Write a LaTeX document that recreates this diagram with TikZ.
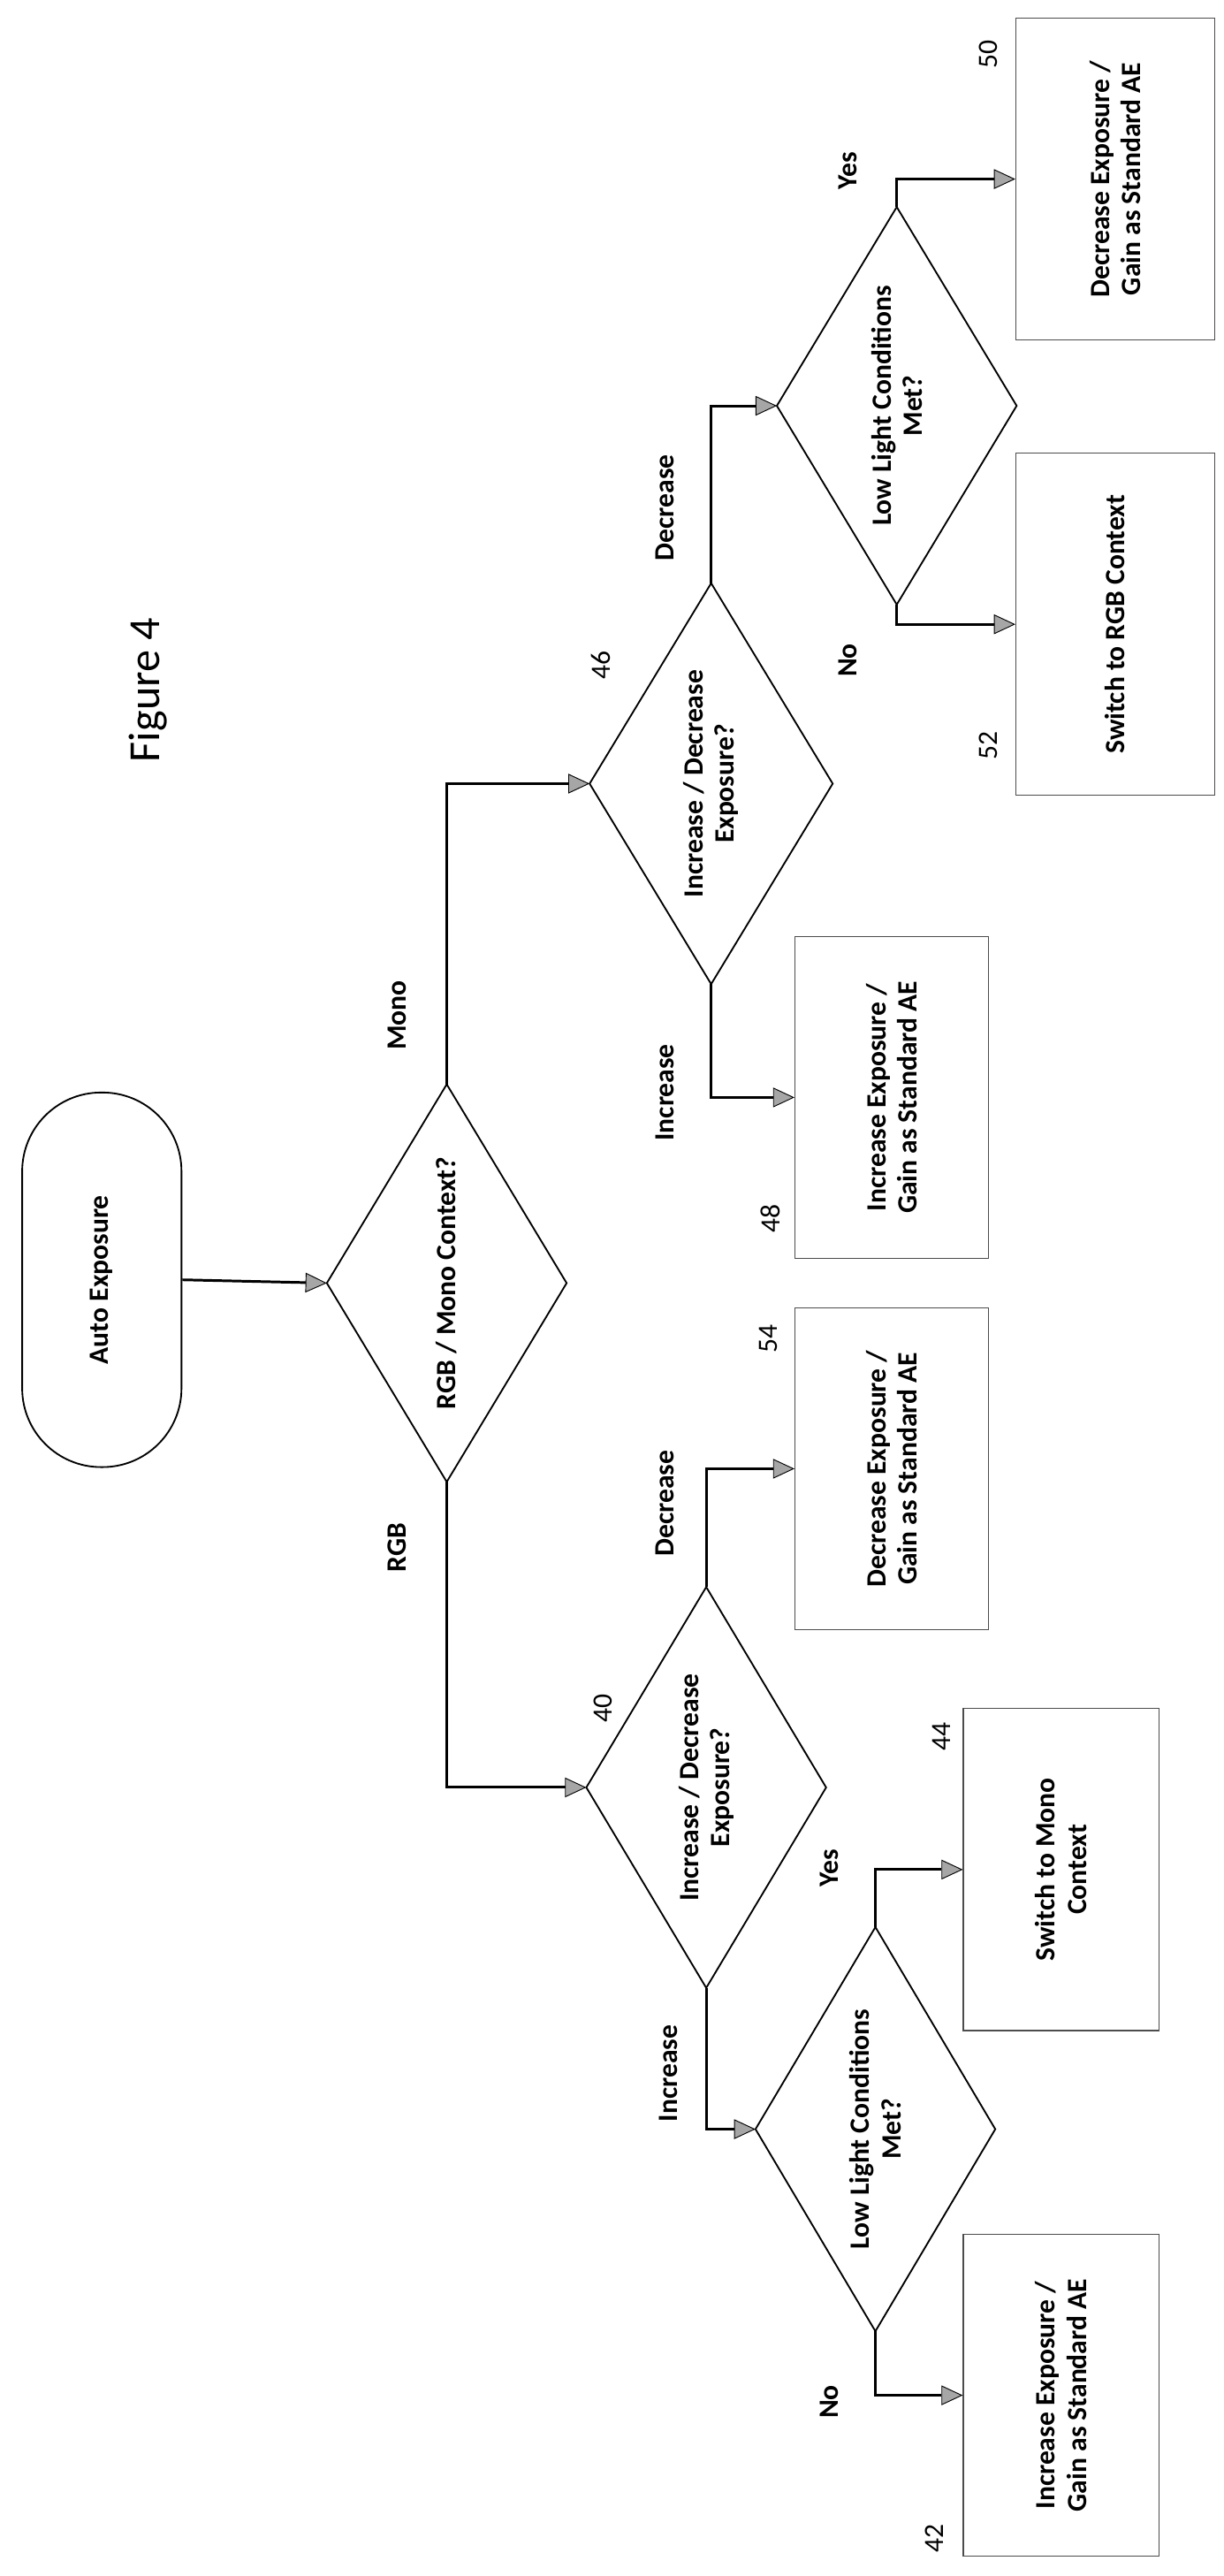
\documentclass[tikz,border=0pt]{standalone}
\usepackage{fontspec}
\setmainfont{Carlito}
\usetikzlibrary{calc,arrows.meta}
\begin{document}
\begin{tikzpicture}[x=1pt,y=-1pt,
  txt/.style={rotate=90,font=\fontsize{17}{19}\selectfont\bfseries,align=center,inner sep=0},
  num/.style={rotate=90,font=\fontsize{17}{19}\selectfont,inner sep=0},
  box/.style={txt,draw=black!70,line width=0.6pt,minimum width=195pt,minimum height=120pt},
  dia/.style={draw=black,line width=1pt},
  arr/.style={line width=1.6pt,-{Triangle[length=13pt,width=12pt,fill=black!35,line width=0.5pt]}}]
\useasboundingbox (0,0) rectangle (745,1568);
\node[num,font=\fontsize{27}{30}\selectfont] (fig) at (90,420) {Figure 4};
% start
\node[txt,draw,line width=1pt,minimum width=228pt,minimum height=97pt,rounded corners=48pt] (start) at (62,779) {Auto Exposure};
% diamonds (text nodes + outlines)
\node[txt] (d0) at (272,781) {RGB / Mono Context?};
\node[txt] (d46) at (433,477) {Increase / Decrease\\Exposure?};
\node[txt] (d40) at (430,1088) {Increase / Decrease\\Exposure?};
\node[txt] (dl1) at (546,247) {Low Light Conditions\\Met?};
\node[txt] (dl2) at (533,1296) {Low Light Conditions\\Met?};
\foreach \n/\h/\v in {d0/73/121,d46/74/122,d40/73/122,dl1/73/121,dl2/73/123}{
  \draw[dia] ($(\n)+(-\h,0)$) -- ($(\n)+(0,-\v)$) -- ($(\n)+(\h,0)$) -- ($(\n)+(0,\v)$) -- cycle;
  \coordinate (\n l) at ($(\n)+(-\h,0)$);
  \coordinate (\n t) at ($(\n)+(0,-\v)$);
  \coordinate (\n b) at ($(\n)+(0,\v)$);
}
% boxes
\node[box,minimum width=196pt,minimum height=118pt] (b48) at (543,668) {Increase Exposure /\\Gain as Standard AE};
\node[box,minimum width=196pt,minimum height=118pt] (b54) at (543,894) {Decrease Exposure /\\Gain as Standard AE};
\node[box,minimum width=196pt,minimum height=121pt] (b50) at (679,109) {Decrease Exposure /\\Gain as Standard AE};
\node[box,minimum width=208pt,minimum height=121pt] (b52) at (679,380) {Switch to RGB Context};
\node[box,minimum width=196pt,minimum height=119pt] (b44) at (646,1138) {Switch to Mono\\Context};
\node[box,minimum width=196pt,minimum height=119pt] (b42) at (646,1458) {Increase Exposure /\\Gain as Standard AE};
% connectors
\draw[arr] (start.south) -- (d0l);
\draw[arr] (d0t) |- (d46l);
\draw[arr] (d0b) |- (d40l);
\draw[arr] (d46b) |- (b48.north);
\draw[arr] (d46t) |- (dl1l);
\draw[arr] (dl1t) |- (b50.north);
\draw[arr] (dl1b) |- (b52.north);
\draw[arr] (d40t) |- (b54.north);
\draw[arr] (d40b) |- (dl2l);
\draw[arr] (dl2t) |- (b44.north);
\draw[arr] (dl2b) |- (b42.north);
% labels
\node[txt] (lmono) at (242,618) {Mono};
\node[txt] (lrgb) at (242,942) {RGB};
\node[txt] (li1) at (405,665) {Increase};
\node[txt] (ld1) at (405,309) {Decrease};
\node[txt] (ly1) at (516,104) {Yes};
\node[txt] (ln1) at (516,402) {No};
\node[txt] (ld2) at (405,915) {Decrease};
\node[txt] (li2) at (407,1262) {Increase};
\node[txt] (ly2) at (505,1137) {Yes};
\node[txt] (ln2) at (505,1462) {No};
% numbers
\node[num] (n46) at (366,405) {46};
\node[num] (n48) at (469,742) {48};
\node[num] (n50) at (602,33) {50};
\node[num] (n52) at (602,454) {52};
\node[num] (n54) at (468,815) {54};
\node[num] (n40) at (367,1040) {40};
\node[num] (n44) at (573,1057) {44};
\node[num] (n42) at (569,1545) {42};
\end{tikzpicture}
\end{document}
